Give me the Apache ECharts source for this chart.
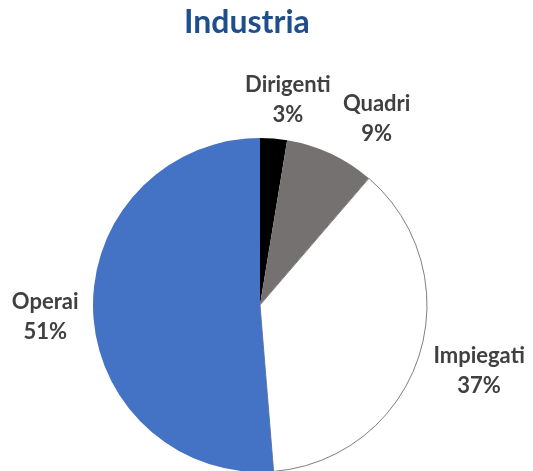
<!DOCTYPE html>
<html>
<head>
<meta charset="utf-8">
<script src="https://cdn.jsdelivr.net/npm/echarts@6/dist/echarts.min.js"></script>
<style>
  html, body { margin: 0; padding: 0; background: #fff; }
  #chart1 { width: 533px; height: 471px; }
</style>
</head>
<body>
<div id="chart1"></div>
<script>
// dati
var categorie = ["Dirigenti", "Quadri", "Impiegati", "Operai"];
var valori = [2.6, 8.7, 37.4, 51.3];
var colori = ["#000000", "#767171", "#ffffff", "#4472C4"];
// spostamento etichette (dx, dy)
var spostamenti = [[-22, -24], [-51, -67], [11, 10], [2, 4]];

var option1 = {
    animation: false,
    title: {
        text: "Industria",
        left: 184,
        top: 7,
        padding: 0,
        textStyle: {
            fontFamily: "Lato",
            fontWeight: "bold",
            fontSize: 32,
            color: "#1F4E8C"
        }
    },
    series: [{
        type: "pie",
        center: [260, 305],
        radius: 167,
        startAngle: 90,
        clockwise: true,
        label: {
            show: true,
            position: "outside",
            overflow: "none",
            fontFamily: "Lato",
            fontWeight: "bold",
            fontSize: 22,
            lineHeight: 30,
            color: "#404040",
            align: "center",
            formatter: function (p) {
                return p.name + "\n" + Math.round(p.percent) + "%";
            }
        },
        labelLine: { show: false },
        labelLayout: function (params) {
            var s = spostamenti[params.dataIndex];
            return { dx: s[0], dy: s[1], align: "center" };
        },
        data: categorie.map(function (c, i) {
            return {
                name: c,
                value: valori[i],
                itemStyle: {
                    color: colori[i],
                    borderColor: c == "Impiegati" ? "#7f7f7f" : colori[i],
                    borderWidth: c == "Impiegati" ? 1 : 0
                }
            };
        })
    }]
};

var mychart = echarts.init(document.getElementById("chart1"));
mychart.setOption(option1);
</script>
</body>
</html>
